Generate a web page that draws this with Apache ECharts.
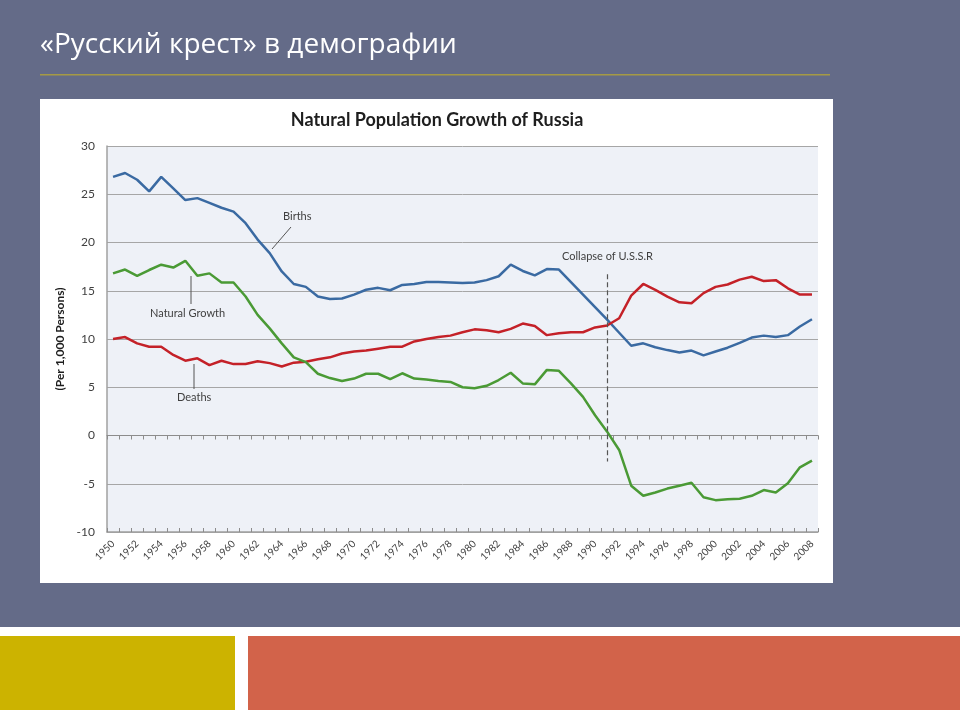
<!DOCTYPE html>
<html>
<head>
<meta charset="utf-8">
<script src="https://cdn.jsdelivr.net/npm/echarts@6/dist/echarts.min.js"></script>
<style>
html,body{margin:0;padding:0;background:#646b88;}
#main{width:960px;height:720px;}
</style>
</head>
<body>
<div id="main"></div>
<script>
const years = [];
for (let y = 1950; y <= 2008; y++) years.push(String(y));

const births = [26.8,27.2,26.5,25.3,26.8,25.6,24.4,24.6,24.1,23.6,23.2,22.0,20.3,18.9,17.0,15.7,15.4,14.4,14.15,14.2,14.6,15.1,15.3,15.05,15.6,15.7,15.9,15.9,15.85,15.8,15.85,16.1,16.5,17.7,17.05,16.6,17.25,17.2,15.9,14.6,13.3,12.0,10.65,9.3,9.55,9.15,8.85,8.6,8.8,8.3,8.7,9.1,9.6,10.15,10.35,10.2,10.4,11.3,12.05];
const deaths = [10.0,10.2,9.55,9.2,9.2,8.35,7.75,8.0,7.3,7.75,7.4,7.4,7.7,7.5,7.15,7.55,7.65,7.9,8.1,8.5,8.7,8.8,9.0,9.2,9.2,9.75,10.0,10.2,10.35,10.7,11.0,10.9,10.7,11.05,11.6,11.35,10.4,10.6,10.7,10.7,11.2,11.4,12.15,14.5,15.7,15.1,14.4,13.8,13.7,14.75,15.4,15.65,16.15,16.45,16.0,16.1,15.25,14.6,14.6];
const naturalGrowth = [16.8,17.2,16.55,17.15,17.7,17.4,18.1,16.55,16.8,15.85,15.85,14.4,12.5,11.1,9.55,8.1,7.6,6.4,5.95,5.65,5.9,6.4,6.4,5.85,6.45,5.9,5.8,5.65,5.55,5.0,4.9,5.15,5.75,6.5,5.4,5.3,6.8,6.7,5.4,4.0,2.1,0.4,-1.5,-5.2,-6.25,-5.9,-5.5,-5.2,-4.9,-6.4,-6.7,-6.6,-6.55,-6.25,-5.65,-5.9,-4.95,-3.3,-2.6];
const collapseYear = '1991';
const collapseRange = [16.7, -2.7];

const chartFont = 'Lato, "Open Sans", sans-serif';
const txt = '#404040';

const chart = echarts.init(document.getElementById('main'), null, {renderer: 'canvas'});
const catAxisBase = {type: 'category', data: years, position: 'bottom', boundaryGap: true};

chart.setOption({
  backgroundColor: '#646b88',
  animation: false,
  textStyle: {fontFamily: chartFont},
  graphic: [
    {type: 'text', left: 40, top: 31, z: 10, style: {text: '«Русский крест» в демографии', fill: '#ffffff', font: '28px "Open Sans", "Noto Sans", sans-serif'}},
    {type: 'rect', shape: {x: 40, y: 74, width: 790, height: 1.5}, style: {fill: '#a59a45'}, z: 1},
    {type: 'rect', shape: {x: 40, y: 99, width: 793, height: 484}, style: {fill: '#ffffff'}, z: -10},
    {type: 'rect', shape: {x: 0, y: 627, width: 960, height: 93}, style: {fill: '#ffffff'}, z: -10},
    {type: 'rect', shape: {x: 0, y: 636, width: 235, height: 74}, style: {fill: '#ccb300'}, z: -5},
    {type: 'rect', shape: {x: 248, y: 636, width: 712, height: 74}, style: {fill: '#d2634a'}, z: -5},
    {type: 'text', x: 437, y: 120, z: 10, style: {text: 'Natural Population Growth of Russia', fill: '#1e1e1e', font: 'bold 18px ' + chartFont, textAlign: 'center', textVerticalAlign: 'middle'}},
    {type: 'text', x: 283, y: 216, z: 10, style: {text: 'Births', fill: txt, font: '11px ' + chartFont, textVerticalAlign: 'middle'}},
    {type: 'line', z: 10, shape: {x1: 272, y1: 249, x2: 291, y2: 227}, style: {stroke: '#555', lineWidth: 1}},
    {type: 'text', x: 150, y: 313, z: 10, style: {text: 'Natural Growth', fill: txt, font: '11px ' + chartFont, textVerticalAlign: 'middle'}},
    {type: 'line', z: 10, shape: {x1: 191, y1: 276, x2: 191, y2: 304}, style: {stroke: '#555', lineWidth: 1}},
    {type: 'text', x: 177, y: 397, z: 10, style: {text: 'Deaths', fill: txt, font: '11px ' + chartFont, textVerticalAlign: 'middle'}},
    {type: 'line', z: 10, shape: {x1: 194, y1: 364, x2: 194, y2: 389}, style: {stroke: '#555', lineWidth: 1}},
    {type: 'text', x: 562, y: 256, z: 10, style: {text: 'Collapse of U.S.S.R', fill: txt, font: '11px ' + chartFont, textVerticalAlign: 'middle'}}
  ],
  grid: {left: 107, right: 142, top: 146, bottom: 188, show: true, backgroundColor: '#eef1f7', borderWidth: 0},
  xAxis: [
    Object.assign({}, catAxisBase, {
      axisLine: {onZero: true, lineStyle: {color: '#8c8c8c', width: 1}},
      axisTick: {show: true, interval: 0, length: 4, inside: false, lineStyle: {color: '#8c8c8c'}},
      axisLabel: {show: false}, splitLine: {show: false}
    }),
    Object.assign({}, catAxisBase, {
      axisLine: {show: false, onZero: true},
      axisTick: {show: true, interval: 0, length: 4, inside: true, lineStyle: {color: '#8c8c8c'}},
      axisLabel: {show: false}, splitLine: {show: false}
    }),
    Object.assign({}, catAxisBase, {
      axisLine: {show: true, onZero: false, lineStyle: {color: '#a0a0a0', width: 1.5}},
      axisTick: {show: false},
      axisLabel: {show: true, interval: 1, rotate: 45, fontSize: 10, color: txt, margin: 10, fontFamily: chartFont},
      splitLine: {show: false}
    })
  ],
  yAxis: {
    type: 'value', min: -10, max: 30, interval: 5,
    axisLine: {show: true, lineStyle: {color: '#a0a0a0', width: 1.5}},
    axisTick: {show: false},
    splitLine: {show: true, lineStyle: {color: '#a6a6a6', width: 1}},
    axisLabel: {fontSize: 12, color: txt, margin: 12, fontFamily: chartFont},
    name: '(Per 1,000 Persons)', nameLocation: 'middle', nameRotate: 90, nameGap: 40,
    nameTextStyle: {fontSize: 12, fontWeight: 'bold', color: '#1e1e1e', fontFamily: chartFont}
  },
  series: [
    {name: 'Births', type: 'line', data: births, symbol: 'none', lineStyle: {color: '#3a6aa2', width: 2.5}, itemStyle: {color: '#3a6aa2'}, z: 3,
     markLine: {silent: true, symbol: 'none', label: {show: false},
       lineStyle: {color: '#555', type: [5, 3], width: 1.2},
       data: [[{xAxis: collapseYear, yAxis: collapseRange[0]}, {xAxis: collapseYear, yAxis: collapseRange[1]}]]}},
    {name: 'Deaths', type: 'line', data: deaths, symbol: 'none', lineStyle: {color: '#c42128', width: 2.5}, itemStyle: {color: '#c42128'}, z: 3},
    {name: 'Natural Growth', type: 'line', data: naturalGrowth, symbol: 'none', lineStyle: {color: '#4a9a35', width: 2.5}, itemStyle: {color: '#4a9a35'}, z: 3}
  ]
});
</script>
</body>
</html>
